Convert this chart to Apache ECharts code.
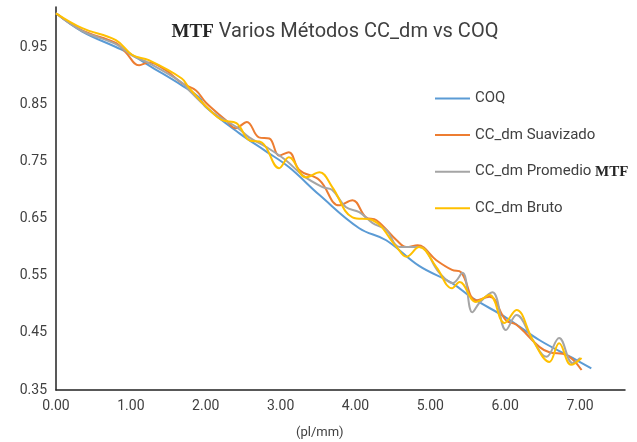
<!DOCTYPE html>
<html>
<head>
<meta charset="utf-8">
<script src="https://cdn.jsdelivr.net/npm/echarts@6/dist/echarts.min.js"></script>
<style>html,body{margin:0;padding:0;background:#fff}#c{width:637px;height:442px}</style>
</head>
<body>
<div id="c"></div>
<script>
// ---- data ----
const seriesNames = ['COQ', 'CC_dm Suavizado', 'CC_dm Promedio MTF', 'CC_dm Bruto'];

const coqX = [0, 0.35, 0.8, 1.02, 1.24, 1.68, 1.91, 2.0, 2.45, 2.8, 3.11, 3.52, 4.05, 4.41, 4.85, 5.29, 5.56, 6.02, 6.46, 6.9, 7.15];
const coqY = [1.009, 0.977, 0.950, 0.936, 0.918, 0.883, 0.862, 0.845, 0.799, 0.768, 0.740, 0.691, 0.633, 0.612, 0.567, 0.537, 0.511, 0.476, 0.437, 0.406, 0.388];

const suavX = [0, 0.35, 0.8, 0.93, 1.11, 1.24, 1.47, 1.68, 1.87, 2.0, 2.27, 2.4, 2.55, 2.71, 2.85, 2.98, 3.11, 3.25, 3.52, 3.78, 3.96, 4.14, 4.28, 4.55, 4.68, 4.83, 5.08, 5.29, 5.41, 5.61, 5.79, 6.01, 6.15, 6.46, 6.59, 6.82, 7.02];
const suavY = [1.009, 0.979, 0.957, 0.941, 0.918, 0.923, 0.909, 0.887, 0.874, 0.853, 0.822, 0.808, 0.819, 0.792, 0.790, 0.760, 0.766, 0.735, 0.717, 0.673, 0.682, 0.652, 0.647, 0.612, 0.600, 0.603, 0.577, 0.560, 0.556, 0.507, 0.513, 0.472, 0.464, 0.425, 0.416, 0.411, 0.385];

const promX = [0, 0.35, 0.8, 1.02, 1.24, 1.68, 1.78, 2.09, 2.41, 2.58, 2.81, 3.07, 3.3, 3.56, 3.69, 3.87, 4.05, 4.23, 4.41, 4.59, 4.85, 5.12, 5.3, 5.43, 5.56, 5.66, 5.83, 6.01, 6.15, 6.37, 6.55, 6.72, 6.9, 7.0];
const promY = [1.009, 0.978, 0.955, 0.935, 0.922, 0.888, 0.874, 0.836, 0.810, 0.792, 0.775, 0.752, 0.725, 0.705, 0.700, 0.670, 0.661, 0.642, 0.630, 0.600, 0.600, 0.555, 0.537, 0.555, 0.486, 0.503, 0.521, 0.455, 0.481, 0.437, 0.408, 0.441, 0.397, 0.406];

const brutoX = [0, 0.35, 0.8, 1.02, 1.24, 1.68, 1.78, 2.05, 2.22, 2.41, 2.58, 2.75, 2.98, 3.11, 3.34, 3.52, 3.69, 3.96, 4.23, 4.55, 4.68, 4.85, 5.08, 5.29, 5.39, 5.61, 5.79, 5.99, 6.15, 6.37, 6.59, 6.72, 6.88, 7.02];
const brutoY = [1.009, 0.983, 0.962, 0.936, 0.927, 0.895, 0.878, 0.840, 0.822, 0.817, 0.787, 0.783, 0.738, 0.757, 0.722, 0.731, 0.705, 0.652, 0.647, 0.600, 0.583, 0.600, 0.565, 0.528, 0.539, 0.504, 0.516, 0.467, 0.490, 0.437, 0.399, 0.432, 0.394, 0.406];

const colors = ['#5B9BD5', '#ED7D31', '#A5A5A5', '#FFC000'];

function pairs(xs, ys) { return xs.map((x, i) => [x, ys[i]]); }
const allX = [coqX, suavX, promX, brutoX];
const allY = [coqY, suavY, promY, brutoY];

const chart = echarts.init(document.getElementById('c'));
chart.setOption({
  animation: false,
  backgroundColor: '#fff',
  title: {
    text: '{s|MTF}{t| Varios Métodos CC_dm vs COQ}',
    left: 330, top: 17, textAlign: 'center',
    textStyle: {
      fontWeight: 'normal',
      rich: {
        s: { fontFamily: 'Liberation Serif', fontWeight: 'bold', fontSize: 19, color: '#262626' },
        t: { fontFamily: 'Roboto', fontWeight: 'normal', fontSize: 20, color: '#404040' }
      }
    }
  },
  legend: {
    orient: 'vertical',
    left: 430, top: 86,
    icon: 'rect',
    itemWidth: 35, itemHeight: 2, itemGap: 21.6,
    data: seriesNames,
    formatter: function (n) {
      if (n === 'CC_dm Promedio MTF') return '{a|CC_dm Promedio }{b|MTF}';
      return '{a|' + n + '}';
    },
    textStyle: {
      rich: {
        a: { fontFamily: 'Roboto', fontSize: 15, color: '#404040', lineHeight: 18 },
        b: { fontFamily: 'Liberation Serif', fontWeight: 'bold', fontSize: 15, color: '#262626', lineHeight: 18 }
      }
    }
  },
  grid: { left: 56, right: 12, top: 7, bottom: 52, containLabel: false },
  xAxis: {
    type: 'value', min: 0, max: 7.6, interval: 1,
    axisLine: { show: true, lineStyle: { color: '#222', width: 1.5 } },
    axisTick: { show: false },
    splitLine: { show: false },
    axisLabel: {
      margin: 9, fontFamily: 'Roboto', fontSize: 14, color: '#404040',
      formatter: v => (v > 7.05 ? '' : v.toFixed(2))
    }
  },
  yAxis: {
    type: 'value', min: 0.35, max: 1.02, interval: 0.1,
    axisLine: { show: true, lineStyle: { color: '#222', width: 1.5 } },
    axisTick: { show: false },
    splitLine: { show: false },
    axisLabel: {
      margin: 9, fontFamily: 'Roboto', fontSize: 14, color: '#404040',
      formatter: v => (v > 0.99 ? '' : v.toFixed(2))
    }
  },
  graphic: [{
    type: 'text', left: 296, top: 426,
    style: { text: '(pl/mm)', font: '13px Roboto', fill: '#404040' }
  }],
  series: seriesNames.map((n, i) => ({
    name: n, type: 'line', smooth: 0.4, symbol: 'none',
    data: pairs(allX[i], allY[i]),
    lineStyle: { color: colors[i], width: 2 },
    itemStyle: { color: colors[i] },
    z: [2, 3, 4, 5][i]
  }))
});
</script>
</body>
</html>
